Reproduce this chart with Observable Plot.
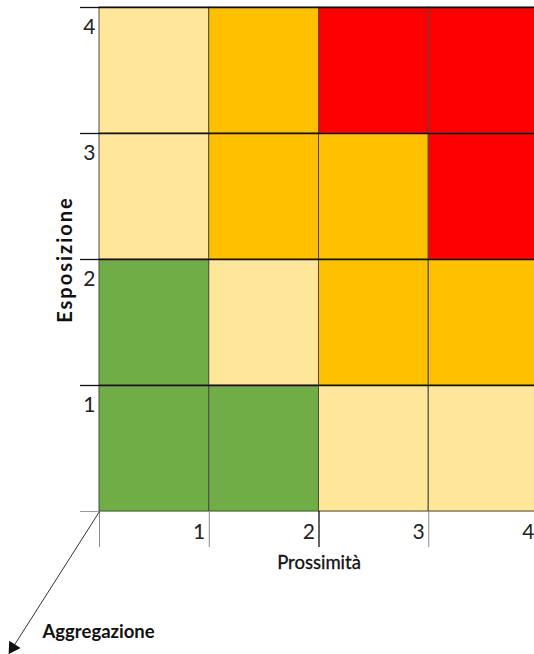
<!DOCTYPE html>
<html>
<head>
<meta charset="utf-8">
<script src="https://cdn.jsdelivr.net/npm/d3@7"></script>
<script src="https://cdn.jsdelivr.net/npm/@observablehq/plot@0.6"></script>
<style>
  html, body { margin: 0; padding: 0; background: white; overflow: hidden; }
  #chart svg { display: block; }
</style>
</head>
<body>
<div id="chart"></div>
<script>
// Categories
const prossimita = [1, 2, 3, 4];
const esposizione = [1, 2, 3, 4];
// Risk level per cell: rows = esposizione 1..4, columns = prossimita 1..4
const livelli = [
  ["verde",  "verde",   "chiaro",  "chiaro"],
  ["verde",  "chiaro",  "arancio", "arancio"],
  ["chiaro", "arancio", "arancio", "rosso"],
  ["chiaro", "arancio", "rosso",   "rosso"]
];
const livelloNomi = ["verde", "chiaro", "arancio", "rosso"];
const livelloColori = ["#70AD47", "#FFE699", "#FFC000", "#FF0000"];
// Tick labels
const tickX = [1, 2, 3, 4];
const tickY = [1, 2, 3, 4];
// Third (depth) axis direction "Aggregazione"
const freccia = [{x1: 0, y1: 0, x2: -0.79, y2: -1.08}];

const cells = [];
esposizione.forEach((e, i) => {
  prossimita.forEach((p, j) => {
    cells.push({x1: p - 1, x2: p, y1: e - 1, y2: e, livello: livelli[i][j]});
  });
});

const font = "Lato, 'Open Sans', sans-serif";

const chart = Plot.plot({
  width: 534,
  height: 654,
  marginLeft: 99,
  marginRight: -4,
  marginTop: 7,
  marginBottom: 143,
  style: {fontFamily: font, background: "white"},
  x: {domain: [0, 4], label: null},
  y: {domain: [0, 4], label: null},
  color: {domain: livelloNomi, range: livelloColori},
  marks: [
    Plot.rect(cells, {x1: "x1", x2: "x2", y1: "y1", y2: "y2", fill: "livello", stroke: "#4a4a4a", strokeWidth: 1}),
    Plot.ruleY([1, 2, 3, 4], {stroke: "#111", strokeWidth: 1.3}),
    Plot.ruleY([0], {stroke: "#999", strokeWidth: 1}),
    Plot.axisY([0], {tickSize: 19, tickFormat: () => "", stroke: "#999", label: null}),
    Plot.axisY([1, 2, 3, 4], {tickSize: 19, tickFormat: () => "", stroke: "#111", strokeWidth: 1.3, label: null}),
    Plot.axisX([0, 1, 3], {tickSize: 36, tickFormat: () => "", stroke: "#888", label: null}),
    Plot.axisX([2], {tickSize: 36, tickFormat: () => "", stroke: "#111", strokeWidth: 1.3, label: null}),
    Plot.text(tickY, {y: d => d, text: d => String(d), frameAnchor: "left", dx: -4, dy: 20, textAnchor: "end", fontSize: 21, fill: "#222"}),
    Plot.text(tickX, {x: d => d, text: d => String(d), frameAnchor: "bottom", dx: -4, dy: 27, textAnchor: "end", fontSize: 21, fill: "#222"}),
    Plot.text(["Prossimità"], {x: 2, text: d => d, frameAnchor: "bottom", dy: 57, textAnchor: "middle", fontSize: 18.5, fill: "#111", stroke: "#111", strokeWidth: 0.3}),
    Plot.text(["Esposizione"], {text: d => d, frameAnchor: "left", dx: -34, textAnchor: "middle", rotate: -90, fontSize: 20, fontWeight: "bold", fill: "#111", className: "espo"}),
    Plot.text(["Aggregazione"], {text: d => d, frameAnchor: "bottom-left", dx: -57, dy: 126, textAnchor: "start", fontSize: 18.5, fontWeight: "bold", fill: "#111"}),
    Plot.link(freccia, {x1: "x1", y1: "y1", x2: "x2", y2: "y2", stroke: "#333", strokeWidth: 1}),
    Plot.dot(freccia, {x: "x2", y: "y2", symbol: "triangle", r: 5, fill: "#111", stroke: "none", rotate: 212.6})
  ]
});
const espo = chart.querySelector(".espo text");
if (espo) espo.setAttribute("letter-spacing", "2");
document.getElementById("chart").appendChild(chart);
</script>
</body>
</html>
